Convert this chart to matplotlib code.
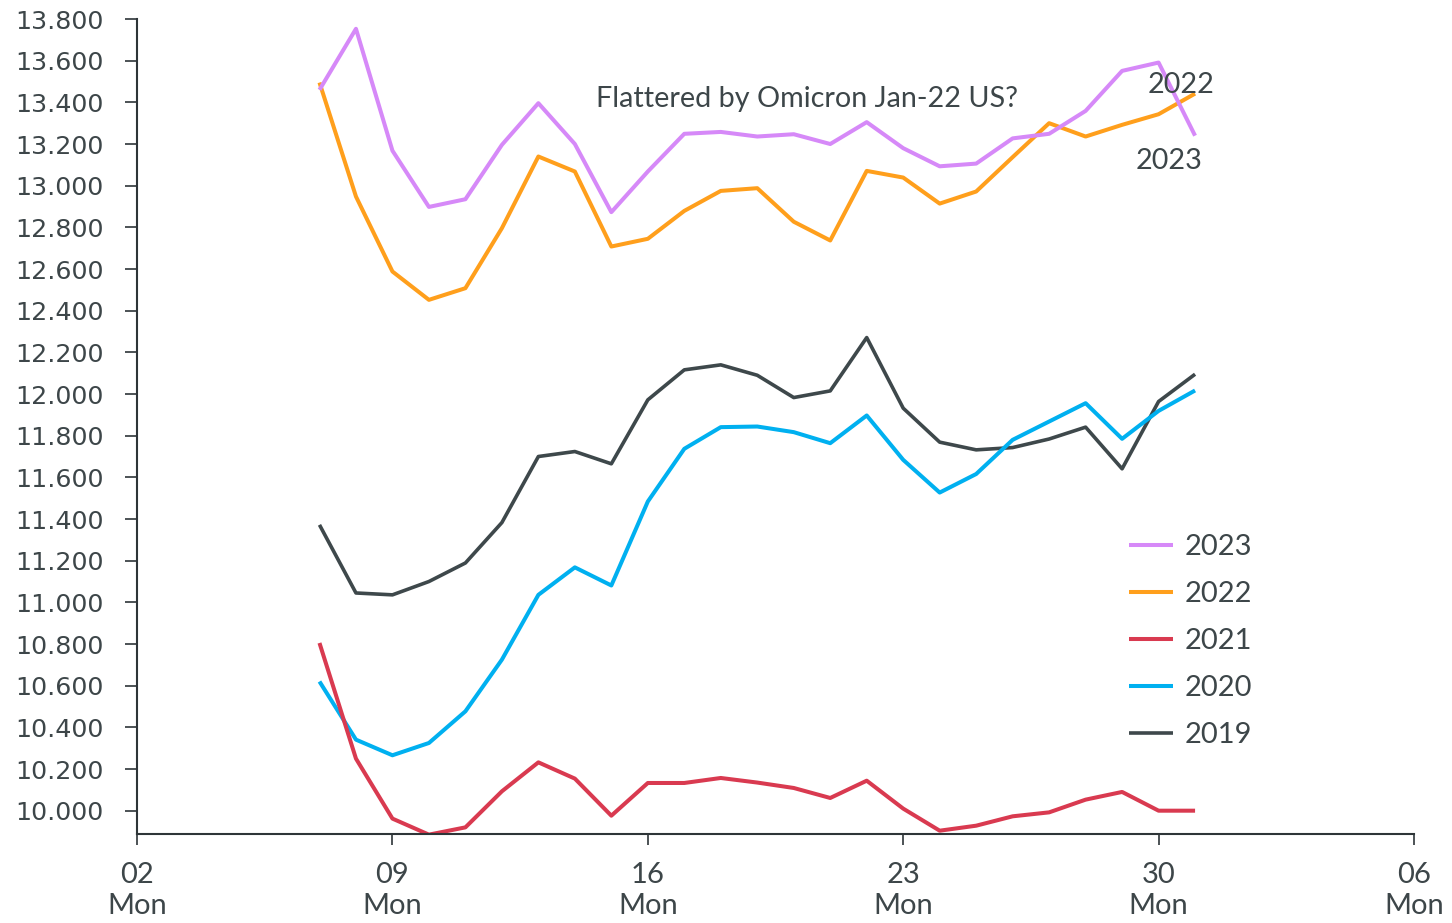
import pandas as pd
import matplotlib
matplotlib.use("Agg")
import matplotlib.pyplot as plt
import matplotlib.dates as mdates
from matplotlib.ticker import FuncFormatter

# daily values, 7 Jan .. 31 Jan
dates = pd.date_range("2023-01-07", "2023-01-31", freq="D")

y2023 = [13.46, 13.753, 13.168, 12.898, 12.935, 13.196, 13.396, 13.200, 12.873, 13.068,
         13.249, 13.258, 13.236, 13.247, 13.200, 13.305, 13.180, 13.093, 13.106, 13.227,
         13.249, 13.359, 13.551, 13.591, 13.240]
y2022 = [13.495, 12.948, 12.588, 12.452, 12.508, 12.796, 13.140, 13.068, 12.708, 12.745,
         12.879, 12.975, 12.988, 12.827, 12.737, 13.071, 13.039, 12.914, 12.972, 13.137,
         13.300, 13.236, 13.292, 13.343, 13.442]
y2021 = [10.805, 10.250, 9.962, 9.885, 9.920, 10.093, 10.232, 10.154, 9.976, 10.133,
         10.133, 10.157, 10.135, 10.109, 10.061, 10.144, 10.010, 9.904, 9.928, 9.973,
         9.992, 10.053, 10.090, 10.000, 10.000]
y2020 = [10.620, 10.341, 10.266, 10.325, 10.477, 10.725, 11.036, 11.168, 11.081, 11.484,
         11.737, 11.841, 11.844, 11.817, 11.764, 11.897, 11.684, 11.527, 11.616, 11.780,
         11.868, 11.956, 11.785, 11.919, 12.017]
y2019 = [11.372, 11.045, 11.036, 11.100, 11.189, 11.383, 11.700, 11.724, 11.665, 11.972,
         12.116, 12.140, 12.090, 11.983, 12.015, 12.271, 11.932, 11.769, 11.732, 11.743,
         11.784, 11.841, 11.641, 11.964, 12.095]

series = [("2023", y2023, "#d689f8"), ("2022", y2022, "#ff9f1c"),
          ("2021", y2021, "#d93a50"), ("2020", y2020, "#00b0f0"),
          ("2019", y2019, "#3e484b")]

text_col = "#3d4649"
axis_col = "#2e3538"

fig = plt.figure(figsize=(14.52, 9.23), dpi=100)
ax = fig.add_axes([0.0944, 0.0964, 0.8794, 0.883])

lines = {}
for name, vals, col in reversed(series):
    lw = 2.6 if name == "2019" else 2.9
    lines[name], = ax.plot(dates, vals, color=col, lw=lw, label=name,
                           solid_capstyle="butt")

ax.set_xlim(pd.Timestamp("2023-01-02"), pd.Timestamp("2023-02-06"))
ax.set_ylim(9.888, 13.8)
ax.set_yticks([10 + 0.2 * i for i in range(20)])
ax.yaxis.set_major_formatter(FuncFormatter(lambda v, p: f"{v:.3f}"))
ax.xaxis.set_major_locator(mdates.WeekdayLocator(byweekday=mdates.MO))
ax.xaxis.set_major_formatter(mdates.DateFormatter("%d\n%a"))

for s in ["top", "right"]:
    ax.spines[s].set_visible(False)
for s in ["left", "bottom"]:
    ax.spines[s].set_color(axis_col)
    ax.spines[s].set_linewidth(1.5)

ax.tick_params(axis="y", direction="out", length=9, width=1.2, color=axis_col,
               labelsize=18.3, labelcolor=text_col, pad=15)
ax.tick_params(axis="x", direction="out", length=8, width=1.2, color=axis_col,
               labelsize=21, labelcolor=text_col, pad=12)
for lab in ax.get_xticklabels():
    lab.set_fontfamily("Lato")
    lab.set_linespacing(1.25)
for lab in ax.get_yticklabels():
    lab.set_fontfamily("DejaVu Sans")

ax.text(pd.Timestamp("2023-01-14 14:00"), 13.416, "Flattered by Omicron Jan-22 US?",
        fontsize=20.7, family="Lato", color=text_col, va="center", ha="left")
ax.text(pd.Timestamp("2023-01-30 14:40"), 13.485, "2022",
        fontsize=20.7, family="Lato", color=text_col, va="center", ha="center")
ax.text(pd.Timestamp("2023-01-30 07:00"), 13.12, "2023",
        fontsize=20.7, family="Lato", color=text_col, va="center", ha="center")

handles = [lines[n] for n, _, _ in series]
leg = ax.legend(handles=handles, loc="upper left", bbox_to_anchor=(0.7596, 0.45),
                bbox_transform=fig.transFigure, frameon=False,
                handlelength=1.5, handletextpad=0.4, labelspacing=0.72,
                prop={"family": "Lato", "size": 21})
for t in leg.get_texts():
    t.set_color(text_col)

fig.savefig("out.png", dpi=100)
